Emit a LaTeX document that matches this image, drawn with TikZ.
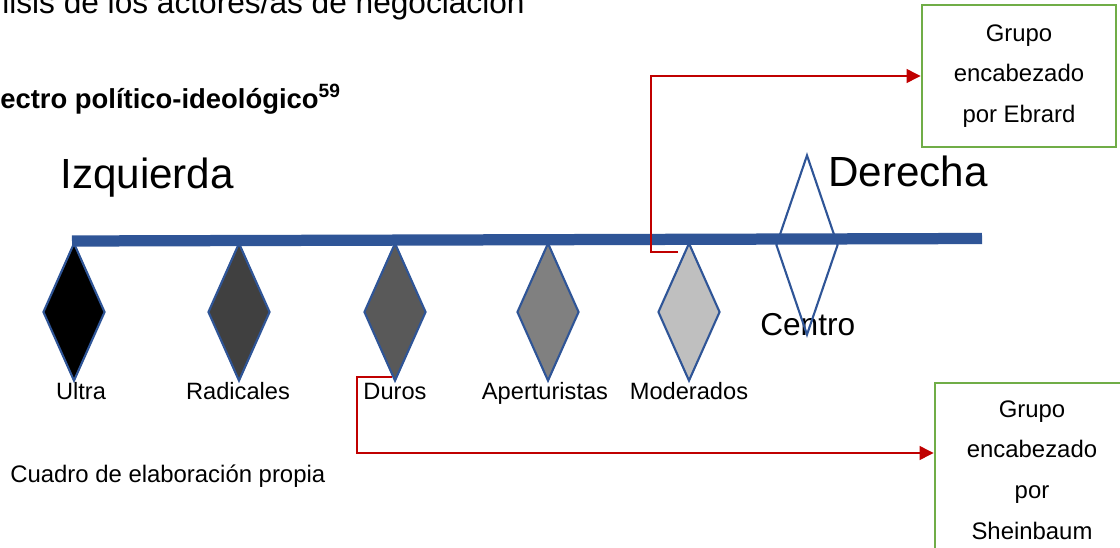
\documentclass[tikz,border=0pt]{standalone}
\usepackage{fontspec}
\setmainfont{Liberation Sans}
\usetikzlibrary{shapes.geometric,arrows.meta}
\definecolor{barblue}{RGB}{47,85,151}
\definecolor{linkred}{RGB}{192,0,0}
\definecolor{boxgreen}{RGB}{112,173,71}
\newcommand{\fs}[2]{\fontsize{#1}{#2}\selectfont}
\begin{document}
\begin{tikzpicture}[x=0.025cm,y=-0.025cm,inner sep=0pt,
  actor/.style={diamond,draw=barblue,line width=1.5pt,minimum width=1.55cm,minimum height=3.45cm},
  tag/.style={anchor=base,font=\fs{16.8}{20}},
  grupo/.style={draw=boxgreen,line width=2pt,minimum width=4.85cm,align=center,font=\fs{17}{29}},
  link/.style={draw=linkred,line width=.8pt,-{Triangle[length=10pt,width=10pt]}}]
  \useasboundingbox (0,0) rectangle (1120,547);
  \node[anchor=base west,font=\fs{22.5}{27}] (tit) at (2,13) {lisis de los actores/as de negociación};
  \node[anchor=base west,font=\bfseries\fs{19.5}{23}] (sub) at (0,108) {ectro político-ideológico\textsuperscript{59}};
  \node[anchor=base west,font=\fs{30}{36}] (izq) at (60,188) {Izquierda};
  \node[anchor=base west,font=\fs{30}{36}] (der) at (828,186) {Derecha};
  % the five actors below the bar
  \foreach \x/\lx/\c/\n/\t in {74/81/black/ul/Ultra, 239/238/black!75/ra/Radicales,
      395/395/black!65/du/Duros, 548/545/black!50/ap/Aperturistas, 689/689/black!25/mo/Moderados}{
    \node[actor,fill=\c] (\n) at (\x,312) {};
    \node[tag] (\n-t) at (\lx,399) {\t};
  }
  \node[anchor=base west,font=\fs{22.5}{27}] (cen-t) at (760,335) {Centro};
  \node[actor,minimum height=4.5cm] (cen) at (807,245) {};
  \draw[barblue,line width=8pt] (72,241) -- (982,238.5);
  \node[anchor=base west,font=\fs{17}{20}] (src) at (10,482) {Cuadro de elaboración propia};
  \node[grupo,minimum height=3.55cm] (eb) at (1019,76) {Grupo\\encabezado\\por Ebrard};
  \node[grupo,minimum height=4.35cm] (sh) at (1032,470) {Grupo\\encabezado\\por\\Sheinbaum};
  \coordinate (mo-out) at (678,252);
  \coordinate (du-out) at (392,377);
  \draw[link] (mo-out) -- ++(-27,0) |- (eb.west);
  \draw[link] (du-out) -- ++(-35,0) |- ([yshift=.425cm]sh.west);
\end{tikzpicture}
\end{document}
